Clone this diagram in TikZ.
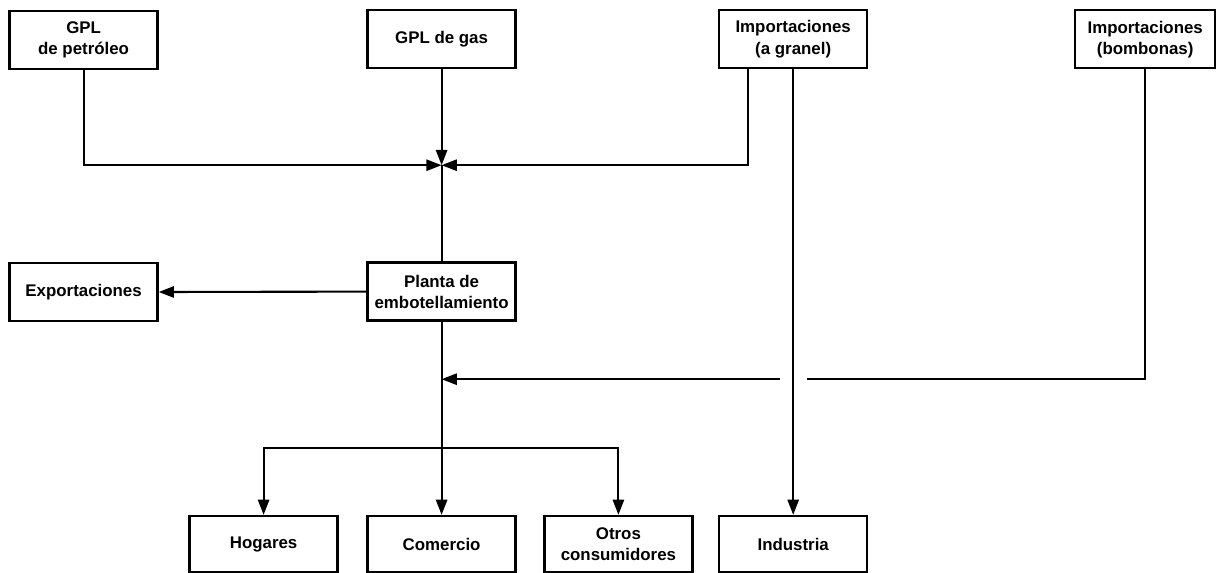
\documentclass[tikz,border=0pt]{standalone}
\usepackage{fontspec}
\setmainfont{Liberation Sans}
\usetikzlibrary{arrows.meta}
\begin{document}
\begin{tikzpicture}[
 box/.style={draw,line width=1.6pt,minimum width=3.7cm,minimum height=1.45cm,align=center,inner sep=1pt,font=\fontsize{12}{15}\selectfont\bfseries},
 flow/.style={line width=1.5pt,-{Triangle[length=3.8mm,width=2.8mm]}}]
\useasboundingbox (0,0) rectangle (30.55,-14.325);
\node[box] (petro) at (2.09,-1.0) {GPL\\de petróleo};
\node[box] (gas) at (11.04,-0.98) {GPL de gas};
\node[box] (granel) at (19.83,-0.98) {Importaciones\\(a granel)};
\node[box,minimum width=3.5cm] (bombonas) at (28.63,-0.98) {Importaciones\\(bombonas)};
\node[box] (planta) at (11.04,-7.29) {Planta de\\embotellamiento};
\node[box] (export) at (2.09,-7.3) {Exportaciones};
\node[box,minimum height=1.4cm] (hogares) at (6.59,-13.6) {Hogares};
\node[box,minimum height=1.4cm] (comercio) at (11.04,-13.6) {Comercio};
\node[box,minimum height=1.4cm] (otros) at (15.46,-13.6) {Otros\\consumidores};
\node[box,minimum height=1.4cm] (industria) at (19.83,-13.6) {Industria};
\coordinate (j) at (11.04,-4.13);
\coordinate (k) at (11.04,-9.48);
\coordinate (gapL) at (19.5,-9.48);
\coordinate (gapR) at (20.18,-9.48);
\coordinate (b) at (11.04,-11.2);
\coordinate (granelout) at (18.7,-1.705);
% to the junction
\draw[flow] (petro.south) |- (j);
\draw[flow] (gas.south) -- (j);
\draw[flow] (granelout) |- (j);
\draw[line width=1.5pt] (j) -- (planta.north);
\draw[flow] (planta.west) -- (export.east);
% bottles
\draw[line width=1.5pt] (bombonas.south) |- (gapR);
\draw[flow] (gapL) -- (k);
\draw[flow] (granel.south) -- (industria.north);
\draw[flow] (planta.south) -- (comercio.north);
\draw[flow] (b) -| (hogares.north);
\draw[flow] (b) -| (otros.north);
\end{tikzpicture}
\end{document}
